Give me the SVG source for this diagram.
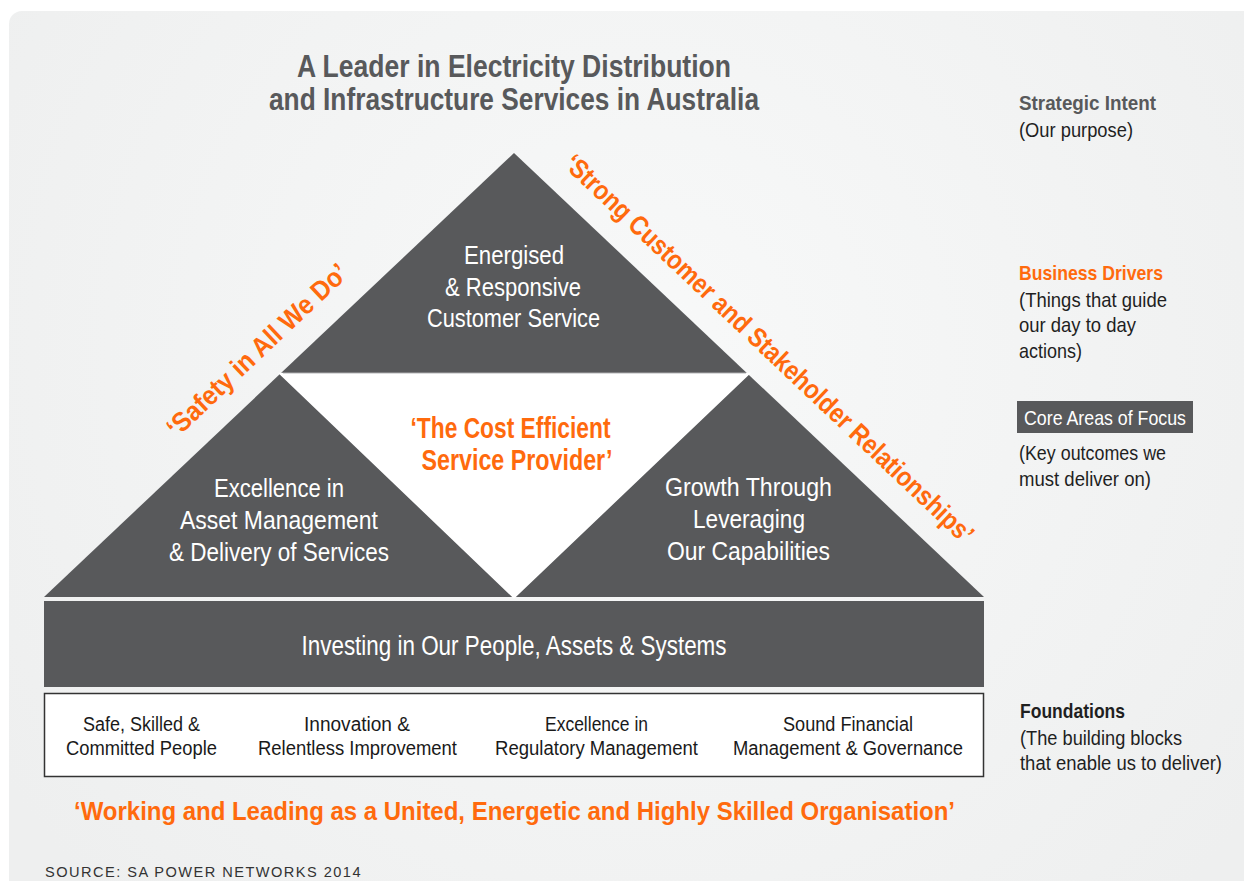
<svg xmlns="http://www.w3.org/2000/svg" width="1244" height="881" viewBox="0 0 1244 881">
  <defs>
    <radialGradient id="bgGrad" cx="640" cy="360" r="760" gradientUnits="userSpaceOnUse">
      <stop offset="0" stop-color="#f8f9f9"/>
      <stop offset="0.6" stop-color="#f2f3f3"/>
      <stop offset="1" stop-color="#eeefef"/>
    </radialGradient>
    <style>
      text { font-family: "Liberation Sans", Arial, sans-serif; }
      .side { font-size: 21px; fill: #1f1f1f; }
      .sideHead { font-size: 21px; font-weight: bold; }
      .title { font-size: 32px; font-weight: bold; fill: #58595b; text-anchor: middle; }
      .tri { font-size: 25px; fill: #ffffff; text-anchor: middle; }
      .base { font-size: 27px; fill: #ffffff; text-anchor: middle; }
      .found { font-size: 20px; fill: #1a1a1a; text-anchor: middle; }
      .dark { fill: #58595b; }
      .orange { font-weight: bold; fill: #ff6a0d; }
      .white { fill: #ffffff; }
      .mid { text-anchor: middle; }
      .source { font-size: 15px; fill: #333333; letter-spacing: 1.5px; }
    </style>
  </defs>

  <!-- page background -->
  <rect x="9" y="11" width="1260" height="900" rx="13" ry="13" fill="url(#bgGrad)"/>

  <!-- heading -->
  <g id="strategic-intent">
    <text class="title" x="514" y="77" textLength="434" lengthAdjust="spacingAndGlyphs">A Leader in Electricity Distribution</text>
    <text class="title" x="514" y="110" textLength="490" lengthAdjust="spacingAndGlyphs">and Infrastructure Services in Australia</text>
  </g>

  <!-- pyramid -->
  <g id="pyramid">
    <polygon class="dark" points="514,153 984,597 44,597"/>
    <polygon points="281,374 748,374 514,597" fill="#ffffff" stroke="#ffffff" stroke-width="2.5"/>
    <line x1="283" y1="373.5" x2="746" y2="373.5" stroke="#d9dadb" stroke-width="1"/>
  </g>

  <g id="customer-service">
    <text class="tri" x="514" y="264" textLength="100" lengthAdjust="spacingAndGlyphs">Energised</text>
    <text class="tri" x="513" y="295.5" textLength="136" lengthAdjust="spacingAndGlyphs">&amp; Responsive</text>
    <text class="tri" x="513.5" y="327" textLength="173" lengthAdjust="spacingAndGlyphs">Customer Service</text>
  </g>

  <g id="asset-management">
    <text class="tri" x="279" y="497" textLength="130" lengthAdjust="spacingAndGlyphs">Excellence in</text>
    <text class="tri" x="279" y="529" textLength="198" lengthAdjust="spacingAndGlyphs">Asset Management</text>
    <text class="tri" x="279" y="561" textLength="220" lengthAdjust="spacingAndGlyphs">&amp; Delivery of Services</text>
  </g>

  <g id="growth">
    <text class="tri" x="748.5" y="496" textLength="167" lengthAdjust="spacingAndGlyphs">Growth Through</text>
    <text class="tri" x="749" y="528" textLength="112" lengthAdjust="spacingAndGlyphs">Leveraging</text>
    <text class="tri" x="748.5" y="560" textLength="163" lengthAdjust="spacingAndGlyphs">Our Capabilities</text>
  </g>

  <g id="cost-efficient">
    <text class="orange mid" x="510.5" y="438" font-size="29" textLength="200" lengthAdjust="spacingAndGlyphs">‘The Cost Efficient</text>
    <text class="orange mid" x="517" y="470" font-size="29" textLength="191" lengthAdjust="spacingAndGlyphs">Service Provider’</text>
  </g>

  <!-- business drivers along the pyramid sides -->
  <g id="safety">
    <text class="orange mid" font-size="27" transform="translate(263.4,356.7) rotate(-43.4)" textLength="238" lengthAdjust="spacingAndGlyphs">‘Safety in All We Do’</text>
  </g>
  <g id="relationships">
    <text class="orange mid" font-size="27" transform="translate(763,355.3) rotate(43.4)" textLength="552" lengthAdjust="spacingAndGlyphs">‘Strong Customer and Stakeholder Relationships’</text>
  </g>

  <!-- investing band -->
  <g id="investing">
    <rect class="dark" x="44" y="601" width="940" height="86"/>
    <text class="base" x="514" y="655" textLength="425" lengthAdjust="spacingAndGlyphs">Investing in Our People, Assets &amp; Systems</text>
  </g>

  <!-- foundations -->
  <g id="foundations">
    <rect x="44.5" y="693.5" width="939" height="83" fill="#ffffff" stroke="#333333" stroke-width="1.5"/>
    <text class="found" x="141.5" y="731" textLength="117" lengthAdjust="spacingAndGlyphs">Safe, Skilled &amp;</text>
    <text class="found" x="141.5" y="755" textLength="151" lengthAdjust="spacingAndGlyphs">Committed People</text>
    <text class="found" x="357" y="731" textLength="106" lengthAdjust="spacingAndGlyphs">Innovation &amp;</text>
    <text class="found" x="357.5" y="755" textLength="199" lengthAdjust="spacingAndGlyphs">Relentless Improvement</text>
    <text class="found" x="596.5" y="731" textLength="103" lengthAdjust="spacingAndGlyphs">Excellence in</text>
    <text class="found" x="596.5" y="755" textLength="203" lengthAdjust="spacingAndGlyphs">Regulatory Management</text>
    <text class="found" x="848" y="731" textLength="130" lengthAdjust="spacingAndGlyphs">Sound Financial</text>
    <text class="found" x="848" y="755" textLength="230" lengthAdjust="spacingAndGlyphs">Management &amp; Governance</text>
  </g>

  <g id="organisation">
    <text class="orange mid" x="514.5" y="819.5" font-size="25" textLength="881" lengthAdjust="spacingAndGlyphs">‘Working and Leading as a United, Energetic and Highly Skilled Organisation’</text>
  </g>

  <text class="source" x="45" y="877" textLength="317" lengthAdjust="spacingAndGlyphs">SOURCE: SA POWER NETWORKS 2014</text>

  <!-- legend column -->
  <g id="legend-intent">
    <text class="side sideHead dark" x="1019" y="110" textLength="137" lengthAdjust="spacingAndGlyphs">Strategic Intent</text>
    <text class="side" x="1019" y="136.5" textLength="114" lengthAdjust="spacingAndGlyphs">(Our purpose)</text>
  </g>
  <g id="legend-drivers">
    <text class="side sideHead orange" x="1019" y="280" textLength="144" lengthAdjust="spacingAndGlyphs">Business Drivers</text>
    <text class="side" x="1019" y="306.5" textLength="148" lengthAdjust="spacingAndGlyphs">(Things that guide</text>
    <text class="side" x="1019" y="332" textLength="117" lengthAdjust="spacingAndGlyphs">our day to day</text>
    <text class="side" x="1019" y="357.5" textLength="63" lengthAdjust="spacingAndGlyphs">actions)</text>
  </g>
  <g id="legend-focus">
    <rect class="dark" x="1017" y="401" width="176" height="32"/>
    <text class="side white" x="1024" y="425" textLength="162" lengthAdjust="spacingAndGlyphs">Core Areas of Focus</text>
    <text class="side" x="1019" y="460" textLength="147" lengthAdjust="spacingAndGlyphs">(Key outcomes we</text>
    <text class="side" x="1019" y="485.5" textLength="132" lengthAdjust="spacingAndGlyphs">must deliver on)</text>
  </g>
  <g id="legend-foundations">
    <text class="side sideHead" x="1020" y="717.5" textLength="105" lengthAdjust="spacingAndGlyphs">Foundations</text>
    <text class="side" x="1020" y="745" textLength="162" lengthAdjust="spacingAndGlyphs">(The building blocks</text>
    <text class="side" x="1020" y="769.5" font-size="19.5" style="font-size:19.5px" textLength="202" lengthAdjust="spacingAndGlyphs">that enable us to deliver)</text>
  </g>
</svg>
